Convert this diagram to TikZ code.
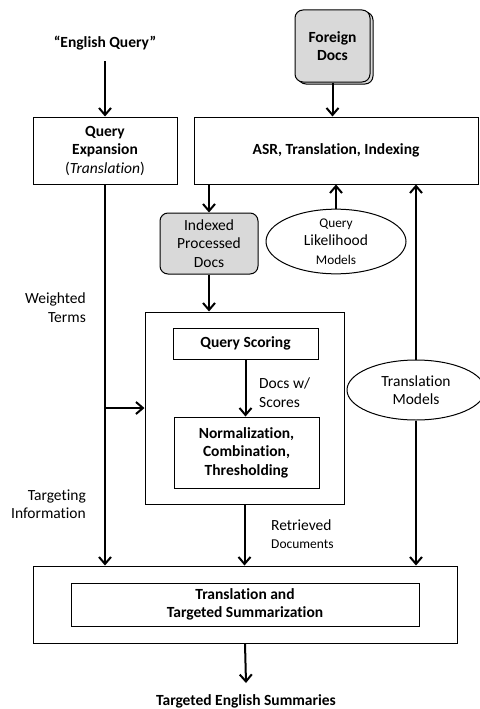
\documentclass[tikz,border=0pt]{standalone}
\usepackage{fontspec}
\setmainfont{Carlito}[Ligatures=NoCommon]
\usetikzlibrary{arrows.meta,shapes.geometric}
\begin{document}
\begin{tikzpicture}[x=1pt,y=-1pt,
  every node/.style={font=\fontsize{15.5}{18.5}\selectfont, align=center, inner sep=0pt},
  box/.style={draw, line width=1pt, fill=white},
  docbox/.style={draw, line width=1pt, fill=gray!30, rounded corners=8pt},
  model/.style={draw, ellipse, line width=1pt, fill=white},
  arr/.style={line width=2pt, -{Straight Barb[length=7pt,width=12pt,line width=2pt]}}
]
\useasboundingbox (0,0) rectangle (479,709);

% inputs
\node (eq) at (105,43) {\textbf{“English Query”}};
\node[docbox, minimum width=75pt, minimum height=72pt] (fdback) at (335.5,48) {};
\node[docbox, minimum width=75pt, minimum height=72pt] (fd) at (332.5,46) {\textbf{Foreign}\\\textbf{Docs}};

% first stage
\node[box, minimum width=144pt, minimum height=67pt] (qe) at (105,150.5)
  {\textbf{Query}\\\textbf{Expansion}\\(\textit{Translation})};
\node[box, minimum width=284pt, minimum height=67pt] (asr) at (336,150.5)
  {\textbf{ASR, Translation, Indexing}};

% indexed docs and models
\node[docbox, minimum width=98pt, minimum height=61pt] (idx) at (209,243.5)
  {Indexed\\Processed\\Docs};
\node[model, minimum width=140pt, minimum height=51pt] (qlm) at (336,241.5)
  {{\fontsize{13.3}{16}\selectfont Query}\\Likelihood\\{\fontsize{13.3}{16}\selectfont Models}};
\node[model, minimum width=138pt, minimum height=60pt] (tm) at (416,390)
  {Translation\\Models};

% retrieval block
\node[box, minimum width=199pt, minimum height=192pt] (ret) at (244.5,408) {};
\node[box, minimum width=145pt, minimum height=31pt] (qs) at (245.5,343.5)
  {\textbf{Query Scoring}};
\node[box, minimum width=145pt, minimum height=71pt] (norm) at (246.5,452.5)
  {\textbf{Normalization,}\\\textbf{Combination,}\\\textbf{Thresholding}};

% summarization block
\node[box, minimum width=424pt, minimum height=77pt] (bot) at (245,604.5) {};
\node[box, minimum width=348pt, minimum height=43pt] (sum) at (245,604.5)
  {\textbf{Translation and}\\\textbf{Targeted Summarization}};
\coordinate (outend) at (246,683);
\node (out) at (246,701) {\textbf{Targeted English Summaries}};

% side labels
\node[anchor=east, align=right] (wt) at (86,307.5) {Weighted\\Terms};
\node[anchor=east, align=right] (ti) at (86,504) {Targeting\\Information};
\node[anchor=west, align=left] (dws) at (259,392.5) {Docs w/\\Scores};
\node[anchor=west, align=left] (rd) at (271,534)
  {Retrieved\\{\fontsize{13.5}{16}\selectfont Documents}};

% connectors
\draw[arr] ([yshift=-11pt]eq.south) -- (qe.north);
\draw[arr] (fd.south) -- (fd.south |- asr.north);
\draw[arr] (idx.north |- asr.south) -- (idx.north);
\draw[arr] (qlm.north) -- (qlm.north |- asr.south);
\draw[arr] (idx.south) -- (idx.south |- ret.north);
\draw[arr] (qe.south) -- (qe.south |- bot.north);
\draw[arr] (qe.south |- ret.west) -- (ret.west);
\draw[arr] (qs.south) -- (qs.south |- norm.north);
\draw[arr] (ret.south) -- (ret.south |- bot.north);
\draw[arr] (tm.north) -- (tm.north |- asr.south);
\draw[arr] (tm.south) -- (tm.south |- bot.north);
\draw[arr] (bot.south) -- (outend);
\end{tikzpicture}
\end{document}
